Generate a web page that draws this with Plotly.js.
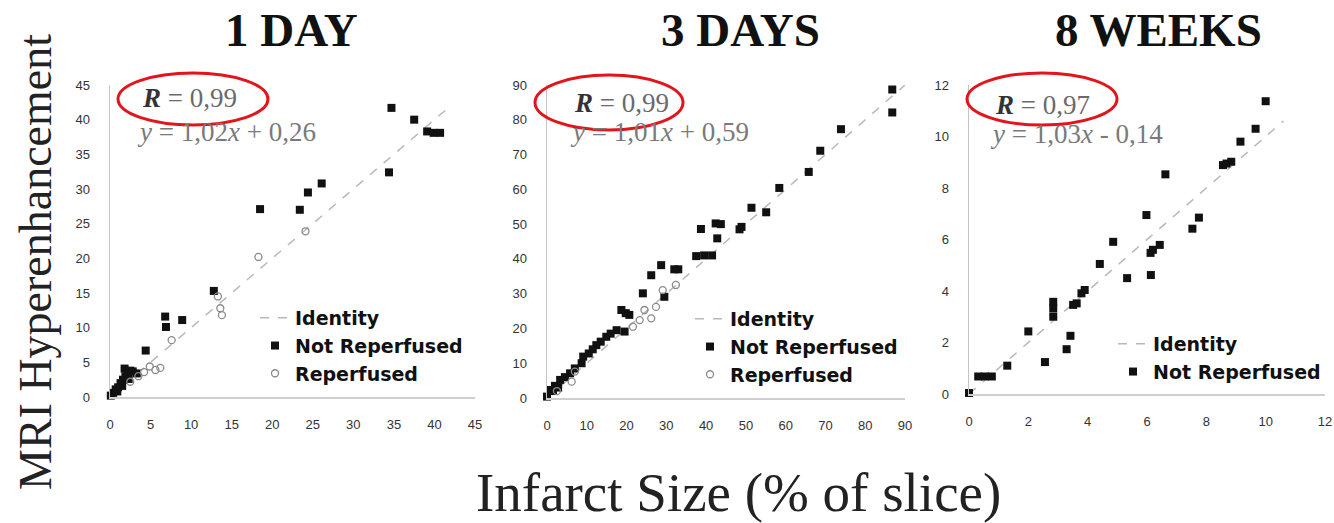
<!DOCTYPE html>
<html>
<head>
<meta charset="utf-8">
<script src="https://cdn.plot.ly/plotly-3.0.1.min.js"></script>
<style>html,body{margin:0;padding:0;background:#fff;}#chart{width:1334px;height:523px;}</style>
</head>
<body>
<div id="chart"></div>
<script>
// ---------- DATA ----------
const panelTitles = ["1 DAY", "3 DAYS", "8 WEEKS"];
const rLabels = ["0,99", "0,99", "0,97"];
const eqLabels = ["1,02<i>x</i> + 0,26", "1,01<i>x</i> + 0,59", "1,03<i>x</i> - 0,14"];
const seriesNames = ["Identity", "Not Reperfused", "Reperfused"];
const yAxisTitle = "MRI Hyperenhancement";
const xAxisTitle = "Infarct Size (% of slice)";

// 1 DAY
const day1NotRepX = [34.7, 37.5, 39.1, 39.9, 40.7, 34.4, 18.5, 23.4, 24.4, 26.1, 12.8, 6.8, 6.9, 8.9, 4.4,
  0.1, 0.4, 0.7, 1.0, 1.3, 1.6, 1.9, 2.2, 2.5, 1.8, 2.8, 3.3, 0.9, 1.5, 2.3];
const day1NotRepY = [41.7, 40.0, 38.3, 38.1, 38.1, 32.4, 27.1, 27.0, 29.5, 30.8, 15.3, 11.6, 10.1, 11.1, 6.7,
  0.2, 0.6, 1.1, 1.4, 2.0, 2.5, 3.0, 3.4, 3.8, 4.1, 3.7, 3.4, 0.8, 1.6, 2.6];
const day1RepX = [24.1, 18.3, 13.3, 13.6, 13.8, 7.6, 4.9, 5.6, 6.2, 3.5, 4.2, 2.5];
const day1RepY = [23.9, 20.2, 14.5, 12.8, 11.8, 8.2, 4.4, 3.9, 4.2, 3.0, 3.6, 2.2];
const day1IdentityX = [0, 42];
const day1IdentityY = [0, 42];

// 3 DAYS
const day3NotRepX = [86.8, 86.8, 73.9, 68.7, 65.8, 58.4, 51.4, 55.1, 48.9, 48.4, 38.7, 42.4, 43.7, 42.8,
  37.5, 39.5, 41.5, 33.0, 32.0, 28.7, 26.2, 29.5, 24.1, 18.7, 19.8, 20.7, 19.5, 14.9, 12.4, 9.1, 8.7,
  5.8, 3.3, 0.8, 0.0, 2.0, 4.5, 7.0, 10.5, 11.5, 13.5, 16.0, 17.5, 1.5, 2.8];
const day3NotRepY = [88.7, 82.1, 77.3, 71.1, 65.0, 60.4, 54.7, 53.4, 49.2, 48.5, 48.6, 50.2, 50.0, 45.9,
  40.8, 41.0, 41.0, 37.0, 37.0, 38.2, 35.3, 29.1, 30.1, 25.3, 24.4, 23.9, 19.1, 17.6, 15.2, 11.9, 10.0,
  7.1, 5.2, 2.3, 0.4, 3.5, 6.0, 8.5, 12.8, 14.0, 16.2, 18.5, 19.5, 2.0, 3.0];
const day3RepX = [21.6, 23.3, 24.5, 26.2, 27.4, 29.1, 32.4, 7.0, 6.2, 2.5];
const day3RepY = [20.5, 22.4, 25.3, 22.9, 26.2, 31.0, 32.5, 7.6, 4.7, 2.0];
const day3IdentityX = [0, 90];
const day3IdentityY = [0, 90];

// 8 WEEKS
const week8NotRepX = [10.0, 9.66, 9.15, 8.84, 8.68, 8.56, 6.62, 5.98, 7.75, 7.53, 4.86, 6.43, 6.2, 6.12,
  4.41, 5.33, 6.13, 3.9, 3.79, 3.63, 3.51, 2.84, 2.84, 2.84, 2.0, 3.42, 3.29, 2.56, 1.29, 0.31, 0.54, 0.77, 0.0];
const week8NotRepY = [11.37, 10.3, 9.8, 9.02, 8.95, 8.89, 8.53, 6.95, 6.85, 6.42, 5.91, 5.79, 5.6, 5.48,
  5.05, 4.5, 4.62, 4.04, 3.91, 3.52, 3.46, 3.58, 3.32, 3.0, 2.43, 2.26, 1.74, 1.24, 1.1, 0.68, 0.68, 0.68, 0.04];
const week8IdentityX = [0, 10.6];
const week8IdentityY = [0, 10.6];

const axisMax = [45, 90, 12];
const axisStep = [5, 10, 2];

// ---------- LAYOUT HELPERS ----------
const W = 1334, H = 523;
const px = v => v / W;
const py = v => 1 - v / H;

const serif = "Liberation Serif, Times New Roman, serif";
const sans = "Liberation Sans, Arial, sans-serif";
const legSans = "DejaVu Sans, Verdana, sans-serif";

const idLine = {color: '#b8b8b8', width: 1.5, dash: 'dash'};
const nrMarker = {symbol: 'square', size: 8, color: '#111'};
const rpMarker = {symbol: 'circle-open', size: 7, color: '#8a8a8a', line: {width: 1.3, color: '#8a8a8a'}};

const traces = [
  {x: day1IdentityX, y: day1IdentityY, xaxis: 'x', yaxis: 'y', mode: 'lines', line: idLine, name: seriesNames[0], legend: 'legend'},
  {x: day1NotRepX, y: day1NotRepY, xaxis: 'x', yaxis: 'y', mode: 'markers', marker: nrMarker, name: seriesNames[1], legend: 'legend', cliponaxis: false},
  {x: day1RepX, y: day1RepY, xaxis: 'x', yaxis: 'y', mode: 'markers', marker: rpMarker, name: seriesNames[2], legend: 'legend', cliponaxis: false},
  {x: day3IdentityX, y: day3IdentityY, xaxis: 'x2', yaxis: 'y2', mode: 'lines', line: idLine, name: seriesNames[0], legend: 'legend2'},
  {x: day3NotRepX, y: day3NotRepY, xaxis: 'x2', yaxis: 'y2', mode: 'markers', marker: nrMarker, name: seriesNames[1], legend: 'legend2', cliponaxis: false},
  {x: day3RepX, y: day3RepY, xaxis: 'x2', yaxis: 'y2', mode: 'markers', marker: rpMarker, name: seriesNames[2], legend: 'legend2', cliponaxis: false},
  {x: week8IdentityX, y: week8IdentityY, xaxis: 'x3', yaxis: 'y3', mode: 'lines', line: idLine, name: seriesNames[0], legend: 'legend3'},
  {x: week8NotRepX, y: week8NotRepY, xaxis: 'x3', yaxis: 'y3', mode: 'markers', marker: nrMarker, name: seriesNames[1], legend: 'legend3', cliponaxis: false}
];

const tickFont = {family: sans, size: 13, color: '#333'};
function xAx(dom, i, anchor) {
  return {domain: dom, range: [0, axisMax[i]], dtick: axisStep[i], tick0: 0, anchor: anchor,
    showline: true, linecolor: '#cfcfcf', linewidth: 1.5, zeroline: false, showgrid: false,
    ticks: 'outside', ticklen: 15, tickcolor: 'rgba(0,0,0,0)', tickfont: tickFont, fixedrange: true};
}
function yAx(dom, i, anchor) {
  return {domain: dom, range: [0, axisMax[i]], dtick: axisStep[i], tick0: 0, anchor: anchor,
    showline: true, linecolor: '#c4c4c4', linewidth: 1.5, zeroline: false, showgrid: false,
    ticks: 'outside', ticklen: 16, tickcolor: 'rgba(0,0,0,0)', tickfont: tickFont, fixedrange: true};
}

const legendFont = {family: legSans, size: 19, color: '#111', weight: 'bold'};
function leg(xp, yp) {
  return {x: px(xp), y: py(yp), xanchor: 'left', yanchor: 'top', xref: 'paper', yref: 'paper',
    bgcolor: 'rgba(0,0,0,0)', font: legendFont, tracegroupgap: 0, itemclick: false, traceorder: 'normal'};
}

const titleFont = {family: serif, size: 47, color: '#111', weight: 'bold'};
const annotations = [
  {text: panelTitles[0], x: px(291), y: py(30)},
  {text: panelTitles[1], x: px(740), y: py(30)},
  {text: panelTitles[2], x: px(1158), y: py(30)}
].map(a => Object.assign({xref: 'paper', yref: 'paper', showarrow: false, xanchor: 'center', yanchor: 'middle', font: titleFont}, a));

const rPos = [[140, 98], [572, 103], [993, 105]];
const eqPos = [[135, 132], [568, 132], [988, 134]];
for (let i = 0; i < 3; i++) {
  annotations.push({xref: 'paper', yref: 'paper', showarrow: false, xanchor: 'left', yanchor: 'middle',
    x: px(rPos[i][0]), y: py(rPos[i][1]),
    text: '<i><b><span style="color:#333">R</span></b></i> = ' + rLabels[i], font: {family: serif, size: 27, color: '#6a6a6a'}});
  annotations.push({xref: 'paper', yref: 'paper', showarrow: false, xanchor: 'left', yanchor: 'middle',
    x: px(eqPos[i][0]), y: py(eqPos[i][1]),
    text: '<i>y</i> = ' + eqLabels[i], font: {family: serif, size: 27, color: '#7a7a7a'}});
}
annotations.push({xref: 'paper', yref: 'paper', showarrow: false, xanchor: 'center', yanchor: 'middle',
  x: px(35), y: py(262), textangle: -90, text: yAxisTitle, font: {family: serif, size: 46, color: '#222'}});
annotations.push({xref: 'paper', yref: 'paper', showarrow: false, xanchor: 'center', yanchor: 'middle',
  x: px(738), y: py(492), text: xAxisTitle, font: {family: serif, size: 55, color: '#222'}});

const ellipses = [[118, 73, 268, 125], [535, 75, 683, 130], [967, 73, 1117, 125]];
const shapes = ellipses.map(e => ({type: 'circle', xref: 'paper', yref: 'paper',
  x0: px(e[0]), x1: px(e[2]), y0: py(e[3]), y1: py(e[1]), line: {color: '#e3141c', width: 3}}));

const layout = {
  width: W, height: H, margin: {l: 0, r: 0, t: 0, b: 0}, paper_bgcolor: '#fff', plot_bgcolor: 'rgba(0,0,0,0)',
  showlegend: true,
  xaxis: xAx([px(110), px(475)], 0, 'y'),
  yaxis: yAx([py(397), py(85)], 0, 'x'),
  xaxis2: xAx([px(547), px(905)], 1, 'y2'),
  yaxis2: yAx([py(398), py(85)], 1, 'x2'),
  xaxis3: xAx([px(969), px(1325)], 2, 'y3'),
  yaxis3: yAx([py(394), py(85)], 2, 'x3'),
  legend: leg(255, 299),
  legend2: leg(690, 300),
  legend3: leg(1113, 325),
  annotations: annotations,
  shapes: shapes
};

Plotly.newPlot('chart', traces, layout, {displayModeBar: false, staticPlot: true});
</script>
</body>
</html>
